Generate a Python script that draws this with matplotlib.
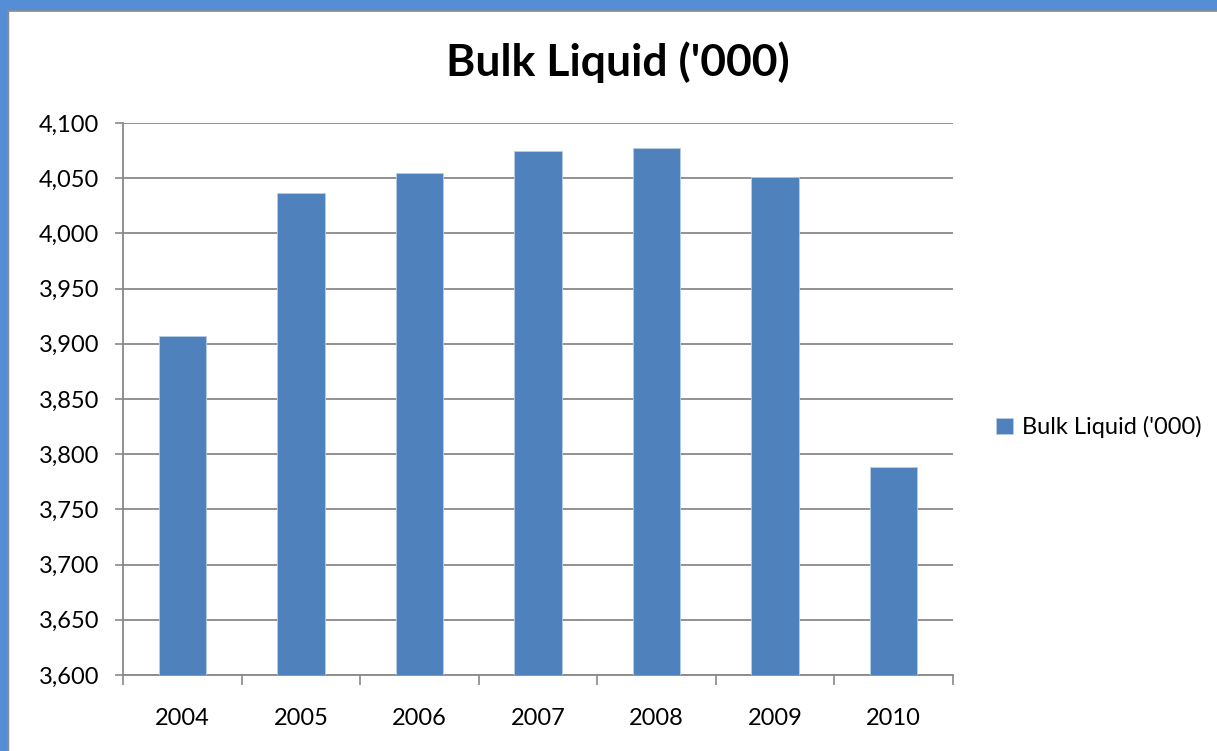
import numpy as np
import matplotlib.pyplot as plt
from matplotlib.patches import Rectangle
from matplotlib.ticker import FuncFormatter, MultipleLocator

# data
years = ["2004", "2005", "2006", "2007", "2008", "2009", "2010"]
bulk_liquid = [3907, 4037, 4055, 4075, 4077, 4051, 3788]
y_range = (3600, 4100)

bar_color = "#4F81BD"
grid_color = "#898989"
border_color = "#558ED5"

plt.rcParams["font.family"] = ["Lato", "DejaVu Sans"]

fig = plt.figure(figsize=(12.17, 7.51), dpi=100)
W, H = 1217, 751

# blue frame on top and left, like the Excel chart area
fig.patches.append(Rectangle((0, 1 - 10 / H), 1, 10 / H, transform=fig.transFigure,
                             color=border_color, zorder=0))
fig.patches.append(Rectangle((0, 0), 8 / W, 1, transform=fig.transFigure,
                             color=border_color, zorder=0))
fig.add_artist(plt.Line2D([8 / W, 1], [1 - 11 / H, 1 - 11 / H], color="#8c8c8c", lw=1.2))
fig.add_artist(plt.Line2D([8 / W, 8 / W], [0, 1 - 10 / H], color="#8c8c8c", lw=1.2))

# axes box in pixels: x 123..953, y 123..675
ax = fig.add_axes([123 / W, 1 - 675 / H, (953 - 123) / W, (675 - 123) / H])

x = np.arange(len(years))
bars = ax.bar(x, bulk_liquid, width=0.4, color=bar_color, edgecolor="#B9CDE5",
              linewidth=0.6, zorder=3, label="Bulk Liquid ('000)")

ax.set_xlim(-0.5, len(years) - 0.5)
ax.set_ylim(*y_range)
ax.yaxis.set_major_locator(MultipleLocator(50))
ax.yaxis.set_major_formatter(FuncFormatter(lambda v, _: f"{v:,.0f}"))

ax.set_xticks(x)
ax.set_xticklabels(years)
# category boundary ticks below the axis
ax.set_xticks(np.arange(-0.5, len(years)), minor=True)
ax.tick_params(axis="x", which="major", length=0, pad=24, labelsize=17)
ax.tick_params(axis="x", which="minor", length=7, width=1.2, color=grid_color, direction="out")
ax.tick_params(axis="y", length=6, width=1.2, color=grid_color, labelsize=17, pad=11)

ax.grid(axis="y", color=grid_color, linewidth=1.3, zorder=0)
for side in ["top", "right"]:
    ax.spines[side].set_visible(False)
for side in ["left", "bottom"]:
    ax.spines[side].set_color(grid_color)
    ax.spines[side].set_linewidth(1.3)

fig.text(618 / W, 1 - 62 / H, "Bulk Liquid ('000)", ha="center", va="center",
         fontsize=32, fontweight="bold")

# legend on the right
fig.legend(handles=[bars], loc="center left", bbox_to_anchor=(996 / W, 1 - 427 / H),
           frameon=False, fontsize=17, handlelength=0.7, handleheight=0.7,
           handletextpad=0.4, borderpad=0, borderaxespad=0)

fig.savefig("out.png", dpi=100, facecolor="white")
